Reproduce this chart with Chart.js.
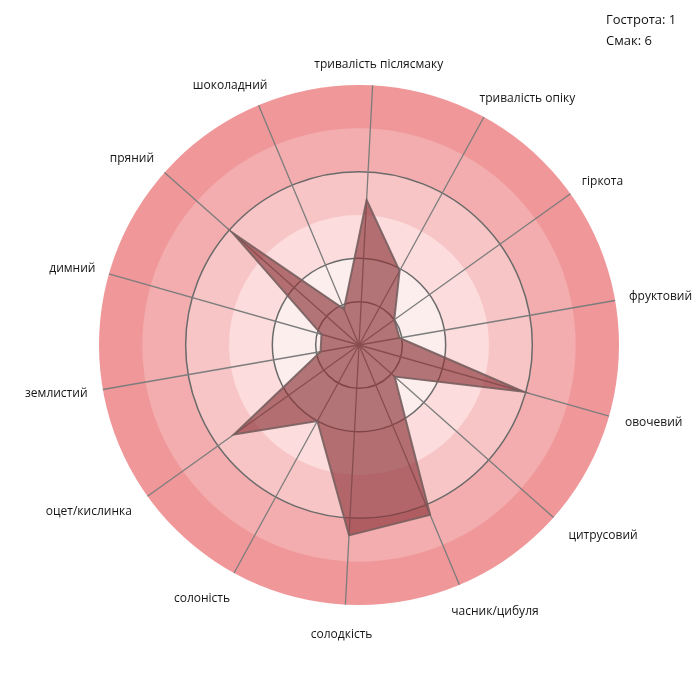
<!DOCTYPE html>
<html>
<head>
<meta charset="utf-8">
<script src="https://cdn.jsdelivr.net/npm/chart.js@4"></script>
<style>
  body { margin: 0; background: #fff; }
  #wrap { position: relative; width: 700px; height: 686px; }
  #note {
    position: absolute; left: 606px; top: 9px;
    font: 13px "Open Sans", sans-serif; color: #111; line-height: 21px;
  }
</style>
</head>
<body>
<div id="wrap">
  <canvas id="myChart"></canvas>
  <div id="note">Гострота: 1<br>Смак: 6</div>
</div>
<script>
// axes, clockwise from the top
const labels = [
  "тривалість післясмаку", "тривалість опіку", "гіркота", "фруктовий",
  "овочевий", "цитрусовий", "часник/цибуля", "солодкість", "солоність",
  "оцет/кислинка", "землистий", "димний", "пряний", "шоколадний"
];
const values = [3.35, 1.95, 1.0, 0.95, 3.95, 1.1, 4.25, 4.4, 2.0, 3.55, 0.9, 0.9, 3.9, 0.9];

// background rings, outer to inner
const bandEdges = [6, 5, 4, 3, 2];
const bandColors = ["#f09799", "#f3adae", "#f8c5c6", "#fcdcdc", "#fdeeee"];
const darkRings = [1, 2, 4];

const rings = {
  id: "rings",
  beforeDraw(chart) {
    const r = chart.scales.r;
    const ctx = chart.ctx;
    ctx.save();
    bandEdges.forEach((v, i) => {
      ctx.beginPath();
      ctx.arc(r.xCenter, r.yCenter, r.getDistanceFromCenterForValue(v), 0, Math.PI * 2);
      ctx.fillStyle = bandColors[i];
      ctx.fill();
    });
    ctx.restore();
  },
  // axis names, placed off the end of each spoke
  afterDraw(chart) {
    const r = chart.scales.r;
    const ctx = chart.ctx;
    ctx.save();
    ctx.font = '12px "Open Sans"';
    ctx.fillStyle = "#151515";
    ctx.textAlign = "center";
    ctx.textBaseline = "middle";
    labels.forEach((txt, i) => {
      const a = r.getIndexAngle(i);
      const gap = 14 + 9 * Math.max(0, -Math.cos(a));
      const p = r.getPointPosition(i, r.drawingArea + gap);
      const w = ctx.measureText(txt).width;
      const s = Math.sin(a);
      const dx = Math.sign(s) * Math.min(1, Math.abs(s) * 1.6) * w / 2;
      ctx.fillText(txt, p.x + dx, p.y - Math.cos(a) * 7);
    });
    ctx.restore();
  }
};

new Chart(document.getElementById("myChart"), {
  type: "radar",
  data: {
    labels: labels,
    datasets: [{
      data: values,
      backgroundColor: "rgba(140, 50, 55, 0.65)",
      borderColor: "rgba(120, 95, 95, 0.9)",
      borderWidth: 2,
      pointRadius: 0
    }]
  },
  options: {
    responsive: true,
    maintainAspectRatio: false,
    animation: false,
    layout: { padding: { top: 85, bottom: 81, left: 99, right: 81 } },
    plugins: { legend: { display: false }, tooltip: { enabled: false } },
    scales: {
      r: {
        min: 0,
        max: 6,
        startAngle: 3,
        ticks: { display: false, stepSize: 1 },
        grid: {
          circular: true,
          lineWidth: 1.5,
          color: c => darkRings.includes(c.tick.value) ? "#6a6a6a" : "rgba(0,0,0,0)"
        },
        angleLines: { color: "#7d7d7d", lineWidth: 1.3 },
        pointLabels: { display: false }
      }
    }
  },
  plugins: [rings]
});
</script>
</body>
</html>
